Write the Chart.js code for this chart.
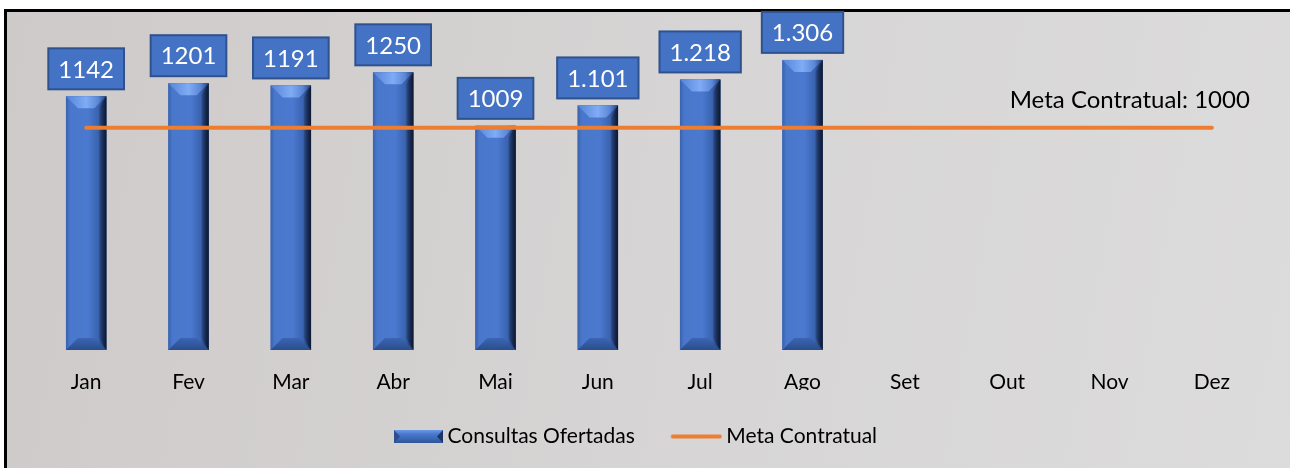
<!DOCTYPE html>
<html>
<head>
<meta charset="utf-8">
<script src="https://cdn.jsdelivr.net/npm/chart.js@4"></script>
<style>
html, body { margin: 0; padding: 0; background: #fff; }
#moldura {
  position: absolute; left: 4px; top: 9px; width: 1286px; height: 459px;
  box-sizing: border-box; border-left: 3px solid #000; border-top: 3px solid #000;
  background: linear-gradient(100deg, #cecac9 0%, #d6d4d4 50%, #dddcdc 100%);
}
#grafico { position: absolute; left: 0; top: 0; }
</style>
</head>
<body>
<div id="moldura"></div>
<canvas id="grafico" width="1290" height="468"></canvas>
<script>
meses = ['Jan','Fev','Mar','Abr','Mai','Jun','Jul','Ago','Set','Out','Nov','Dez'];
consultas = [1142, 1201, 1191, 1250, 1009, 1101, 1218, 1306];
rotulos = ['1142','1201','1191','1250','1009','1.101','1.218','1.306'];
meta = [1000, 1000, 1000, 1000, 1000, 1000, 1000, 1000, 1000, 1000, 1000, 1000];
metaTexto = 'Meta Contratual: 1000';
fonte = "Lato";

// barra com efeito chanfrado
function desenhaBarra(ctx, x0, x1, topo, base){
  w = x1 - x0;
  b = Math.min(12, w / 2, (base - topo) / 2);
  g = ctx.createLinearGradient(x0, 0, x1, 0);
  g.addColorStop(0, '#3a62ad');
  g.addColorStop(0.1, '#4877cb');
  g.addColorStop(0.55, '#4a79cf');
  g.addColorStop(0.8, '#3a63b0');
  g.addColorStop(1, '#14264a');
  ctx.fillStyle = g;
  ctx.fillRect(x0, topo, w, base - topo);
  // chanfro de cima
  ctx.beginPath();
  ctx.moveTo(x0, topo); ctx.lineTo(x1, topo); ctx.lineTo(x1 - b, topo + b); ctx.lineTo(x0 + b, topo + b);
  ctx.closePath();
  g = ctx.createLinearGradient(x0, 0, x1, 0);
  g.addColorStop(0, '#5584d8');
  g.addColorStop(0.5, '#80acf5');
  g.addColorStop(0.8, '#5a86d6');
  g.addColorStop(1, '#23407a');
  ctx.fillStyle = g;
  ctx.fill();
  // chanfro de baixo
  ctx.beginPath();
  ctx.moveTo(x0, base); ctx.lineTo(x1, base); ctx.lineTo(x1 - b, base - b); ctx.lineTo(x0 + b, base - b);
  ctx.closePath();
  g = ctx.createLinearGradient(0, base - b, 0, base);
  g.addColorStop(0, '#3b65b3');
  g.addColorStop(1, '#2b4d8c');
  ctx.fillStyle = g;
  ctx.fill();
  // borda direita escura
  ctx.beginPath();
  ctx.moveTo(x1, topo); ctx.lineTo(x1, base); ctx.lineTo(x1 - b * 0.6, base - b); ctx.lineTo(x1 - b * 0.6, topo + b);
  ctx.closePath();
  g = ctx.createLinearGradient(x1 - b * 0.6, 0, x1, 0);
  g.addColorStop(0, 'rgba(20,38,74,0.2)');
  g.addColorStop(1, 'rgba(12,24,50,0.9)');
  ctx.fillStyle = g;
  ctx.fill();
}

// amostras da legenda
amostraBarra = document.createElement('canvas');
amostraBarra.width = 58; amostraBarra.height = 13;
c = amostraBarra.getContext('2d');
gg = c.createLinearGradient(0, 0, 0, 13);
gg.addColorStop(0, '#6c98e6'); gg.addColorStop(0.3, '#4a79cf'); gg.addColorStop(1, '#2f5598');
c.fillStyle = gg; c.fillRect(8, 0, 49, 13);
c.fillStyle = '#2c4f8f';
c.beginPath(); c.moveTo(8, 0); c.lineTo(14, 6.5); c.lineTo(8, 13); c.fill();
c.fillStyle = '#1c3566';
c.beginPath(); c.moveTo(57, 0); c.lineTo(51, 6.5); c.lineTo(57, 13); c.fill();

amostraLinha = document.createElement('canvas');
amostraLinha.width = 58; amostraLinha.height = 8;
c = amostraLinha.getContext('2d');
c.strokeStyle = '#ED7D31'; c.lineWidth = 4; c.lineCap = 'round';
c.beginPath(); c.moveTo(8, 4); c.lineTo(55, 4); c.stroke();

const pluginDesenho = {
  id: 'desenho',
  beforeDraw(chart){
    lg = chart.legend;
    lg.left = 21; lg.right = 1249; lg.top = 389;
  },
  afterDatasetDraw(chart, args){
    if (args.index !== 0) return;
    ctx = chart.ctx;
    ctx.save();
    args.meta.data.forEach(function(bar){
      desenhaBarra(ctx, bar.x - bar.width / 2, bar.x + bar.width / 2, bar.y, bar.base);
    });
    ctx.restore();
  },
  afterDatasetsDraw(chart){
    ctx = chart.ctx;
    ctx.save();
    // rotulos de dados
    ctx.font = '24px ' + fonte;
    ctx.textAlign = 'center';
    ctx.textBaseline = 'middle';
    chart.getDatasetMeta(0).data.forEach(function(bar, i){
      tw = ctx.measureText(rotulos[i]).width;
      bw = tw + 20; bh = 41;
      bx = bar.x - bw / 2; by = bar.y - 7 - bh;
      ctx.fillStyle = '#4472C4';
      ctx.fillRect(bx, by, bw, bh);
      ctx.strokeStyle = '#2F528F';
      ctx.lineWidth = 2;
      ctx.strokeRect(bx, by, bw, bh);
      ctx.fillStyle = '#fff';
      ctx.fillText(rotulos[i], bar.x, by + bh / 2 + 1);
    });
    // texto da meta
    pts = chart.getDatasetMeta(1).data;
    ult = pts[pts.length - 1];
    ctx.font = '24px ' + fonte;
    ctx.textAlign = 'right';
    ctx.fillStyle = '#000';
    ctx.fillText(metaTexto, ult.x + 38, ult.y - 28);
    ctx.restore();
  }
};

const ctxG = document.getElementById('grafico');

new Chart(ctxG, {
  type: 'bar',
  data: {
    labels: meses,
    datasets: [
      {
        label: 'Consultas Ofertadas',
        data: consultas,
        backgroundColor: '#4472C4',
        borderWidth: 0,
        barPercentage: 0.395,
        categoryPercentage: 1,
        order: 2
      },
      {
        type: 'line',
        label: 'Meta Contratual',
        data: meta,
        borderColor: '#ED7D31',
        borderWidth: 4,
        borderCapStyle: 'round',
        pointRadius: 0,
        fill: false,
        order: 1
      }
    ]
  },
  options: {
    responsive: false,
    animation: false,
    layout: { padding: { left: 35, right: 27, top: 39, bottom: 10 } },
    scales: {
      x: {
        grid: { display: false, drawTicks: false },
        border: { display: false },
        ticks: { color: '#000', padding: 20, font: { family: fonte, size: 21 } },
        afterFit(scale){ scale.height = 40; }
      },
      y: { display: false, min: 0, max: 1400 }
    },
    plugins: {
      tooltip: { enabled: false },
      legend: {
        position: 'bottom',
        labels: {
          color: '#000',
          font: { family: fonte, size: 21 },
          usePointStyle: true,
          pointStyleWidth: 44,
          padding: 37,
          generateLabels(){
            return [
              { text: 'Consultas Ofertadas', pointStyle: amostraBarra, fillStyle: '#4472C4', strokeStyle: 'transparent', lineWidth: 0, hidden: false, datasetIndex: 0, fontColor: '#000' },
              { text: 'Meta Contratual', pointStyle: amostraLinha, fillStyle: '#ED7D31', strokeStyle: 'transparent', lineWidth: 0, hidden: false, datasetIndex: 1, fontColor: '#000' }
            ];
          }
        }
      }
    }
  },
  plugins: [pluginDesenho]
});
</script>
</body>
</html>
